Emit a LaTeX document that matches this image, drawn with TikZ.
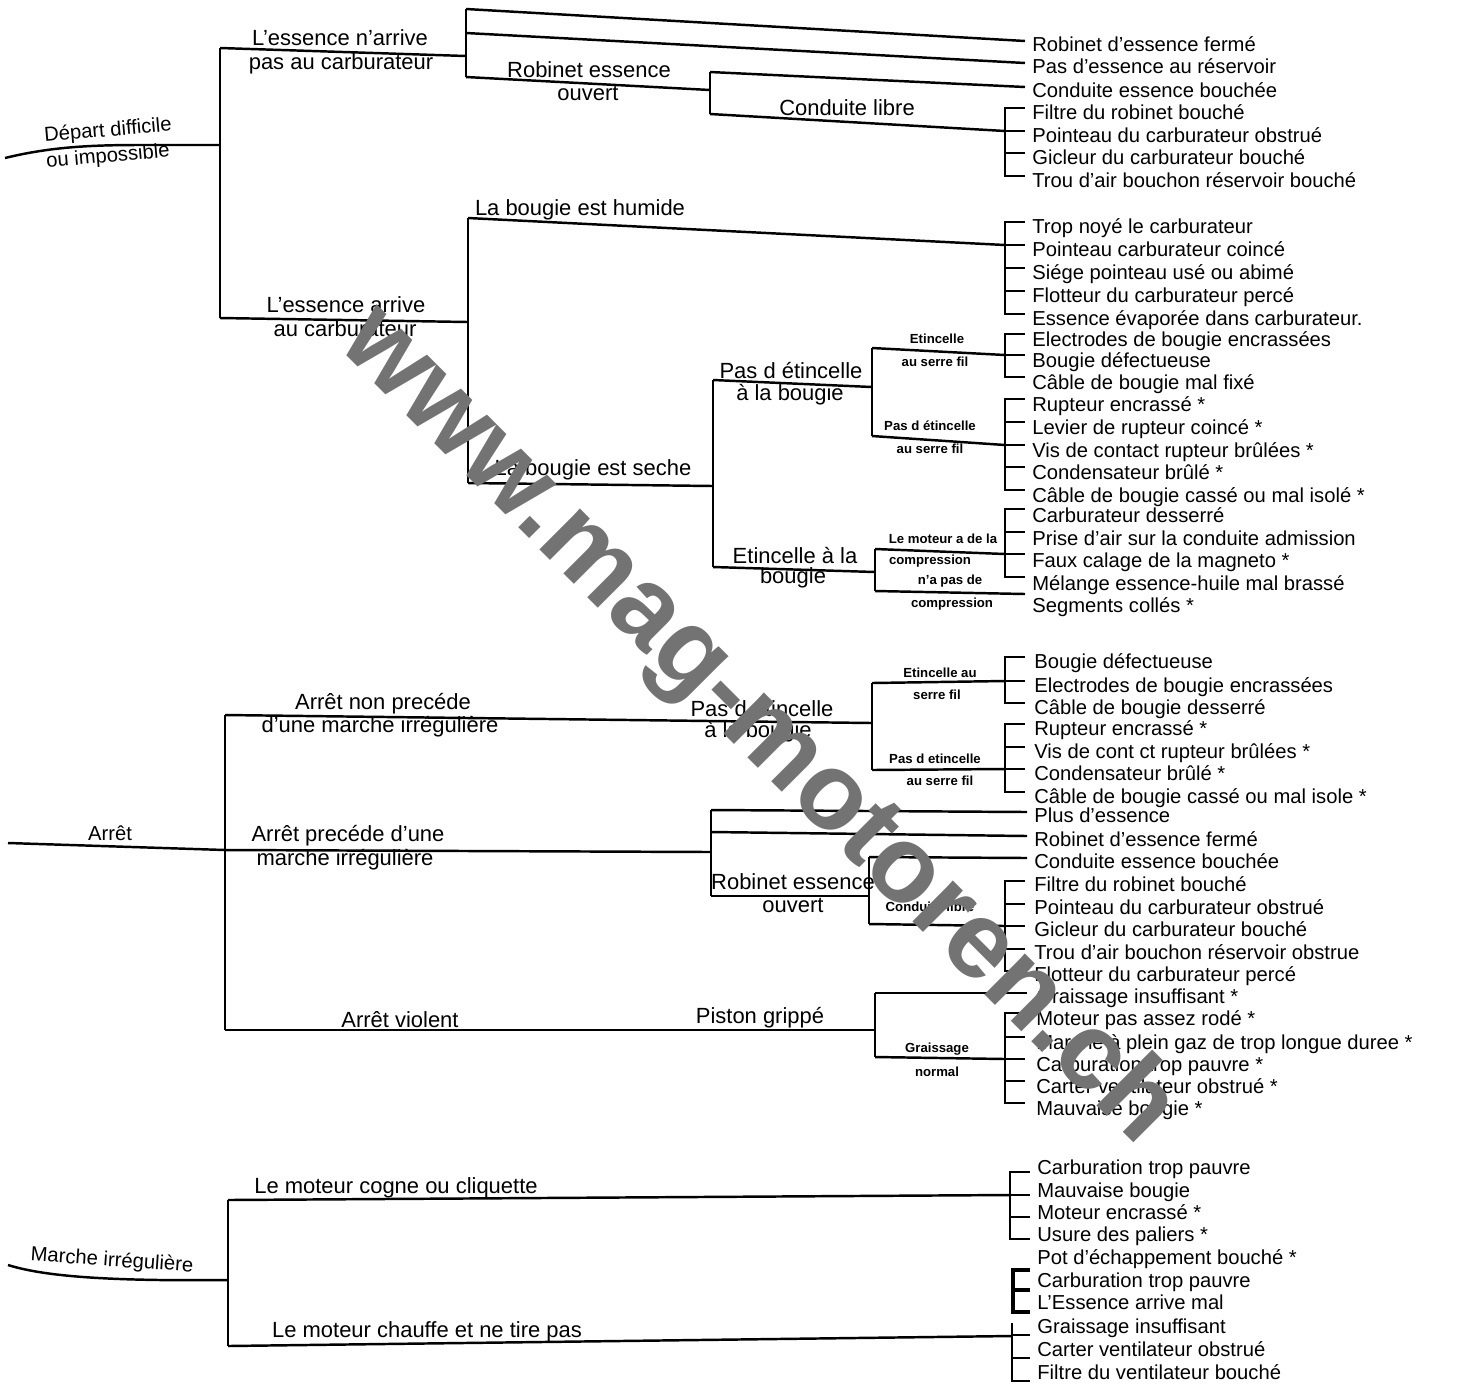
\documentclass[tikz,border=0pt]{standalone}
\usepackage{fontspec}
\setmainfont{Liberation Sans}
\usetikzlibrary{calc}

\begin{document}
\begin{tikzpicture}[
x=0.02cm, y=-0.02cm,
tree/.style={line width=1.4pt},
item/.style={anchor=west, inner sep=0pt, text height=8.3pt, text depth=2.4pt, font=\fontsize{11.5}{13}\selectfont},
lab/.style={inner sep=0pt, font=\fontsize{12.5}{14}\selectfont},
root/.style={inner sep=0pt, font=\fontsize{11.5}{13}\selectfont},
tiny/.style={inner sep=0pt, font=\bfseries\fontsize{7.5}{9}\selectfont},
wmark/.style={inner sep=0pt, text=black!55, font=\bfseries\fontsize{62}{62}\selectfont, rotate=-45}
]

\useasboundingbox (0,0) rectangle (1467,1384);

%%%%%%%%%%%%%%%%%%%%%%%%%%%%%%%%%%%%%%%%%%%%%%%%%%%%%%
% DEPART DIFFICILE
%%%%%%%%%%%%%%%%%%%%%%%%%%%%%%%%%%%%%%%%%%%%%%%%%%%%%%

\coordinate (d0) at (5,158);
\coordinate (d1) at (220,145);
\coordinate (d1t) at (220,48);
\coordinate (d1b) at (220,318);

\draw[tree] (d0) .. controls (50,147) and (90,145) .. (140,145) -- (d1);
\draw[tree] (d1t) -- (d1b);

\node[root, rotate=5] (depart1) at (108,131) {Départ difficile};
\node[root, rotate=5] (depart2) at (108,157) {ou impossible};

% l'essence n'arrive pas
\coordinate (a1) at (466,56);
\coordinate (a1t) at (466,9);
\coordinate (a1m) at (466,33);
\coordinate (a1b) at (466,77);

\node[lab] (narr1) at (340,38) {L'essence n'arrive};
\node[lab] (narr2) at (341,64) {pas au carburateur};

\node[item] (r1) at (1032,46) {Robinet d'essence fermé};
\node[item] (r2) at (1032,68) {Pas d'essence au réservoir};
\node[item] (r3) at (1032,92) {Conduite essence bouchée};
\node[item] (r4) at (1032,114) {Filtre du robinet bouché};
\node[item] (r5) at (1032,137) {Pointeau du carburateur obstrué};
\node[item] (r6) at (1032,159) {Gicleur du carburateur bouché};
\node[item] (r7) at (1032,182) {Trou d'air bouchon réservoir bouché};

\draw[tree] (d1t) -- (a1);
\draw[tree] (a1t) -- (a1b);
\draw[tree] (a1t) -- ($(r1.west)+(-7,-5)$);
\draw[tree] (a1m) -- ($(r2.west)+(-7,-5)$);

\coordinate (b1) at (710,90);
\coordinate (b1t) at (710,72);
\coordinate (b1b) at (710,114);

\node[lab] (rob1) at (589,70) {Robinet essence};
\node[lab] (rob2) at (588,94) {ouvert};
\node[lab] (cond1) at (847,108) {Conduite libre};

\draw[tree] (a1b) -- (b1);
\draw[tree] (b1t) -- (b1b);
\draw[tree] (b1t) -- ($(r3.west)+(-7,-5)$);
\draw[tree] (b1b) -- ($(r5.west)+(-27,-6)$);
\draw[tree] ($(r4.west)+(-7,-6)$) -| ($(r7.west)+(-27,-6)$) -- ++(20,0);
\foreach \n in {r5,r6} \draw[tree] ($(\n.west)+(-27,-6)$) -- ++(20,0);

% l'essence arrive
\coordinate (e1) at (468,322);
\coordinate (e1t) at (468,218);
\coordinate (e1b) at (468,483);

\node[lab] (arr1) at (346,305) {L'essence arrive};
\node[lab] (arr2) at (345,329) {au carburateur};
\node[lab] (hum) at (580,210) {La bougie est humide};

\node[item] (h1) at (1032,228) {Trop noyé le carburateur};
\node[item] (h2) at (1032,251) {Pointeau carburateur coincé};
\node[item] (h3) at (1032,274) {Siége pointeau usé ou abimé};
\node[item] (h4) at (1032,297) {Flotteur du carburateur percé};
\node[item] (h5) at (1032,320) {Essence évaporée dans carburateur.};

\draw[tree] (d1b) -- (e1);
\draw[tree] (e1t) -- (e1b);
\draw[tree] (e1t) -- ($(h2.west)+(-27,-6)$);
\draw[tree] ($(h1.west)+(-7,-6)$) -| ($(h5.west)+(-27,-6)$) -- ++(20,0);
\foreach \n in {h2,h3,h4} \draw[tree] ($(\n.west)+(-27,-6)$) -- ++(20,0);

% la bougie est seche
\coordinate (s1) at (713,486);
\coordinate (s1t) at (713,380);
\coordinate (s1b) at (713,567);

\node[lab] (sec) at (593,470) {La bougie est seche};

\draw[tree] (e1b) -- (s1);
\draw[tree] (s1t) -- (s1b);

\coordinate (p1) at (872,387);
\coordinate (p1t) at (872,348);
\coordinate (p1b) at (872,436);

\node[lab] (pas1) at (791,371) {Pas d étincelle};
\node[lab] (pas2) at (790,395) {à la bougie};

\node[tiny] (et1) at (937,339) {Etincelle};
\node[tiny] (et2) at (935,362) {au serre fil};
\node[tiny] (ne1) at (930,426) {Pas d étincelle};
\node[tiny] (ne2) at (930,449) {au serre fil};

\node[item] (k1) at (1032,341) {Electrodes de bougie encrassées};
\node[item] (k2) at (1032,362) {Bougie défectueuse};
\node[item] (k3) at (1032,384) {Câble de bougie mal fixé};

\node[item] (l1) at (1032,406) {Rupteur encrassé *};
\node[item] (l2) at (1032,429) {Levier de rupteur coincé *};
\node[item] (l3) at (1032,452) {Vis de contact rupteur brûlées *};
\node[item] (l4) at (1032,474) {Condensateur brûlé *};
\node[item] (l5) at (1032,497) {Câble de bougie cassé ou mal isolé *};

\draw[tree] (s1t) -- (p1);
\draw[tree] (p1t) -- (p1b);
\draw[tree] (p1t) -- ($(k2.west)+(-27,-7)$);
\draw[tree] ($(k1.west)+(-7,-7)$) -| ($(k3.west)+(-27,-7)$) -- ++(20,0);
\draw[tree] ($(k2.west)+(-27,-7)$) -- ++(20,0);
\draw[tree] (p1b) -- ($(l3.west)+(-27,-7)$);
\draw[tree] ($(l1.west)+(-7,-7)$) -| ($(l5.west)+(-27,-7)$) -- ++(20,0);
\foreach \n in {l2,l3,l4} \draw[tree] ($(\n.west)+(-27,-7)$) -- ++(20,0);

\coordinate (q1) at (875,572);
\coordinate (q1t) at (875,549);
\coordinate (q1b) at (875,591);

\node[lab] (eb1) at (795,556) {Etincelle à la};
\node[lab] (eb2) at (793,578) {bougie};

\node[tiny] (mc1) at (943,539) {Le moteur a de la};
\node[tiny] (mc2) at (930,561) {compression};
\node[tiny] (np1) at (950,581) {n'a pas de};
\node[tiny] (np2) at (952,604) {compression};

\node[item] (m1) at (1032,517) {Carburateur desserré};
\node[item] (m2) at (1032,540) {Prise d'air sur la conduite admission};
\node[item] (m3) at (1032,562) {Faux calage de la magneto *};
\node[item] (m4) at (1032,585) {Mélange essence-huile mal brassé};
\node[item] (m5) at (1032,607) {Segments collés *};

\draw[tree] (s1b) -- (q1);
\draw[tree] (q1t) -- (q1b);
\draw[tree] (q1t) -- ($(m3.west)+(-27,-8)$);
\draw[tree] ($(m1.west)+(-7,-8)$) -| ($(m4.west)+(-27,-8)$) -- ++(20,0);
\foreach \n in {m2,m3} \draw[tree] ($(\n.west)+(-27,-8)$) -- ++(20,0);
\draw[tree] (q1b) -- ($(m5.west)+(-7,-13)$);

%%%%%%%%%%%%%%%%%%%%%%%%%%%%%%%%%%%%%%%%%%%%%%%%%%%%%%
% ARRET
%%%%%%%%%%%%%%%%%%%%%%%%%%%%%%%%%%%%%%%%%%%%%%%%%%%%%%

\coordinate (t0) at (8,843);
\coordinate (t1) at (225,850);
\coordinate (t1t) at (225,715);
\coordinate (t1b) at (225,1030);

\node[root] (arret) at (110,833) {Arrêt};

\draw[tree] (t0) -- (t1);
\draw[tree] (t1t) -- (t1b);

% arret non precede
\coordinate (u1) at (872,723);
\coordinate (u1t) at (872,683);
\coordinate (u1b) at (872,770);

\node[lab] (anp1) at (383,704) {Arrêt non precéde};
\node[lab] (anp2) at (380,727) {d'une marche irrégulière};
\node[lab] (pb1) at (762,709) {Pas d étincelle};
\node[lab] (pb2) at (758,732) {à la bougie};

\node[tiny] (sf1) at (940,673) {Etincelle au};
\node[tiny] (sf2) at (937,695) {serre fil};
\node[tiny] (nsf1) at (935,759) {Pas d etincelle};
\node[tiny] (nsf2) at (940,781) {au serre fil};

\node[item] (v1) at (1034,663) {Bougie défectueuse};
\node[item] (v2) at (1034,687) {Electrodes de bougie encrassées};
\node[item] (v3) at (1034,709) {Câble de bougie desserré};

\node[item] (w1) at (1034,730) {Rupteur encrassé *};
\node[item] (w2) at (1034,753) {Vis de cont ct rupteur brûlées *};
\node[item] (w3) at (1034,775) {Condensateur brûlé *};
\node[item] (w4) at (1034,798) {Câble de bougie cassé ou mal isole *};

\draw[tree] (t1t) -- (u1);
\draw[tree] (u1t) -- (u1b);
\draw[tree] (u1t) -- ($(v2.west)+(-29,-6)$);
\draw[tree] ($(v1.west)+(-9,-6)$) -| ($(v3.west)+(-29,-6)$) -- ++(20,0);
\draw[tree] ($(v2.west)+(-29,-6)$) -- ++(20,0);
\draw[tree] (u1b) -- ($(w3.west)+(-29,-6)$);
\draw[tree] ($(w1.west)+(-9,-6)$) -| ($(w4.west)+(-29,-6)$) -- ++(20,0);
\foreach \n in {w2,w3} \draw[tree] ($(\n.west)+(-29,-6)$) -- ++(20,0);

% arret precede
\coordinate (x1) at (711,852);
\coordinate (x1t) at (711,810);
\coordinate (x1b) at (711,896);

\node[lab] (ap1) at (348,836) {Arrêt precéde d'une};
\node[lab] (ap2) at (345,860) {marche irrégulière};

\node[item] (o1) at (1034,817) {Plus d'essence};
\node[item] (o2) at (1034,841) {Robinet d'essence fermé};
\node[item] (o3) at (1034,863) {Conduite essence bouchée};

\draw[tree] (t1) -- (x1);
\draw[tree] (x1t) -- (x1b);
\draw[tree] (x1t) -- ($(o1.west)+(-7,-5)$);
\draw[tree] ($(x1t)+(0,22)$) -- ($(o2.west)+(-7,-5)$);

\coordinate (y1) at (869,896);
\coordinate (y1t) at (869,857);
\coordinate (y1b) at (869,924);

\node[lab] (ro1) at (793,882) {Robinet essence};
\node[lab] (ro2) at (793,905) {ouvert};
\node[tiny] (cl) at (930,907) {Conduite libre};

\node[item] (z1) at (1034,886) {Filtre du robinet bouché};
\node[item] (z2) at (1034,909) {Pointeau du carburateur obstrué};
\node[item] (z3) at (1034,931) {Gicleur du carburateur bouché};
\node[item] (z4) at (1034,954) {Trou d'air bouchon réservoir obstrue};
\node[item] (z5) at (1034,976) {Flotteur du carburateur percé};

\draw[tree] (x1b) -- (y1);
\draw[tree] (y1t) -- (y1b);
\draw[tree] (y1t) -- ($(o3.west)+(-7,-5)$);
\draw[tree] (y1b) -- ($(z3.west)+(-29,-5)$);
\draw[tree] ($(z1.west)+(-9,-5)$) -| ($(z5.west)+(-29,-5)$) -- ++(20,0);
\foreach \n in {z2,z3,z4} \draw[tree] ($(\n.west)+(-29,-5)$) -- ++(20,0);

% arret violent
\coordinate (g1) at (875,1030);
\coordinate (g1t) at (875,993);
\coordinate (g1b) at (875,1057);

\node[lab] (av) at (400,1020) {Arrêt violent};
\node[lab] (pg) at (760,1018) {Piston grippé};
\node[tiny] (gn1) at (937,1049) {Graissage};
\node[tiny] (gn2) at (937,1072) {normal};

\node[item] (n0) at (1036,998) {Graissage insuffisant *};
\node[item] (n1) at (1036,1020) {Moteur pas assez rodé *};
\node[item] (n2) at (1036,1044) {Marche à plein gaz de trop longue duree *};
\node[item] (n3) at (1036,1066) {Carburation trop pauvre *};
\node[item] (n4) at (1036,1088) {Carter ventilateur obstrué *};
\node[item] (n5) at (1036,1110) {Mauvaise bougie *};

\draw[tree] (t1b) -- (g1);
\draw[tree] (g1t) -- (g1b);
\draw[tree] (g1t) -- ($(n0.west)+(-9,-5)$);
\draw[tree] (g1b) -- ($(n3.west)+(-31,-7)$);
\draw[tree] ($(n1.west)+(-11,-7)$) -| ($(n5.west)+(-31,-7)$) -- ++(20,0);
\foreach \n in {n2,n3,n4} \draw[tree] ($(\n.west)+(-31,-7)$) -- ++(20,0);

%%%%%%%%%%%%%%%%%%%%%%%%%%%%%%%%%%%%%%%%%%%%%%%%%%%%%%
% MARCHE IRREGULIERE
%%%%%%%%%%%%%%%%%%%%%%%%%%%%%%%%%%%%%%%%%%%%%%%%%%%%%%

\coordinate (i0) at (8,1265);
\coordinate (i1) at (228,1280);
\coordinate (i1t) at (228,1200);
\coordinate (i1b) at (228,1346);

\node[root, rotate=-4] (mi) at (112,1261) {Marche irrégulière};

\draw[tree] (i0) .. controls (40,1275) and (90,1279) .. (160,1280) -- (i1);
\draw[tree] (i1t) -- (i1b);

% cogne
\node[lab] (cog) at (396,1188) {Le moteur cogne ou cliquette};

\node[item] (c1) at (1037,1169) {Carburation trop pauvre};
\node[item] (c2) at (1037,1192) {Mauvaise bougie};
\node[item] (c3) at (1037,1214) {Moteur encrassé *};
\node[item] (c4) at (1037,1236) {Usure des paliers *};

\draw[tree] (i1t) -- ($(c2.west)+(-27,3)$);
\draw[tree] ($(c1.west)+(-7,3)$) -| ($(c4.west)+(-27,3)$) -- ++(20,0);
\foreach \n in {c2,c3} \draw[tree] ($(\n.west)+(-27,3)$) -- ++(20,0);

% pot d'echappement
\node[item] (ep1) at (1037,1259) {Pot d'échappement bouché *};
\node[item] (ep2) at (1037,1282) {Carburation trop pauvre};
\node[item] (ep3) at (1037,1304) {L'Essence arrive mal};

\draw[line width=2.2pt] ($(ep1.west)+(-7,11)$) -| ($(ep3.west)+(-24,8)$) -- ++(17,0);
\draw[line width=2.2pt] ($(ep2.west)+(-24,8)$) -- ++(17,0);

% chauffe
\node[lab] (ch) at (427,1332) {Le moteur chauffe et ne tire pas};

\node[item] (f1) at (1037,1328) {Graissage insuffisant};
\node[item] (f2) at (1037,1351) {Carter ventilateur obstrué};
\node[item] (f3) at (1037,1374) {Filtre du ventilateur bouché};

\draw[tree] (i1b) -- ($(f1.west)+(-25,8)$);
\draw[tree] ($(f1.west)+(-25,-5)$) -- ($(f3.west)+(-25,7)$) -- ++(18,0);
\foreach \n in {f1,f2} \draw[tree] ($(\n.west)+(-25,7)$) -- ++(18,0);

%%%%%%%%%%%%%%%%%%%%%%%%%%%%%%%%%%%%%%%%%%%%%%%%%%%%%%
% WATERMARK
%%%%%%%%%%%%%%%%%%%%%%%%%%%%%%%%%%%%%%%%%%%%%%%%%%%%%%

\node[wmark] (site) at (757,727) {www.mag-motoren.ch};

\end{tikzpicture}
\end{document}
